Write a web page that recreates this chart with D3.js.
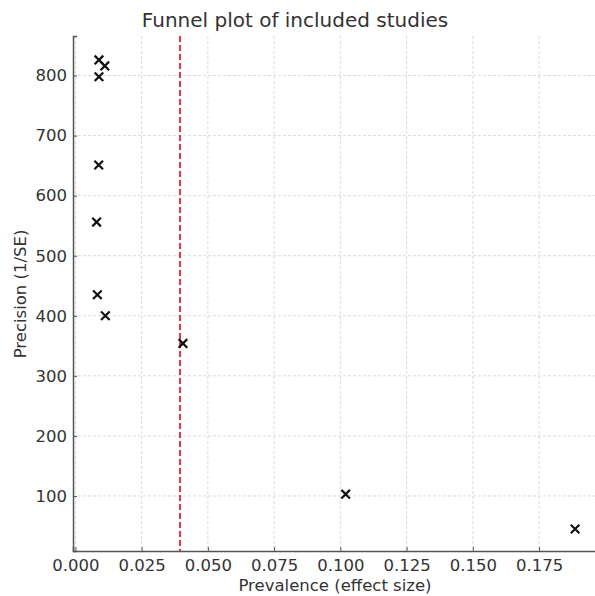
<!DOCTYPE html>
<html lang="en">
  <head>
    <meta charset="UTF-8" />
    <title>Funnel plot</title>
    <style>
      body { margin: 0; background: #fff; }
      text { font-family: "DejaVu Sans", sans-serif; }
    </style>
  </head>
  <body>
    <script src="https://cdn.jsdelivr.net/npm/d3@7"></script>
    <script>
    // study effect sizes and precision
    var prevalence = [0.0089, 0.0111, 0.0089, 0.0088, 0.0080, 0.0083, 0.0113, 0.0406, 0.1020, 0.1886];
    var precision = [826, 816, 798, 651, 556, 435, 400, 354, 103, 45];
    var pooled = 0.0395;
    var xTicks = [0, 0.025, 0.05, 0.075, 0.1, 0.125, 0.15, 0.175];
    var yTicks = [100, 200, 300, 400, 500, 600, 700, 800];

    var width = 595, height = 596;
    var plot = {left: 73, right: 600, top: 36, bottom: 551};

    var svg = d3.select("body").append("svg")
      .attr("width", width)
      .attr("height", height);

    var x = d3.scaleLinear().domain([-0.0009, 0.198]).range([plot.left, plot.right]);
    var y = d3.scaleLinear().domain([8.4, 865.8]).range([plot.bottom, plot.top]);

    // grid
    svg.append("g").selectAll("line")
      .data(xTicks)
      .enter()
      .append("line")
      .attr("x1", function(d){ return x(d); })
      .attr("x2", function(d){ return x(d); })
      .attr("y1", plot.top)
      .attr("y2", plot.bottom)
      .attr("stroke", "#d0d0d0")
      .attr("stroke-width", 0.8)
      .attr("stroke-dasharray", "3,2");

    svg.append("g").selectAll("line")
      .data(yTicks)
      .enter()
      .append("line")
      .attr("x1", plot.left)
      .attr("x2", plot.right)
      .attr("y1", function(d){ return y(d); })
      .attr("y2", function(d){ return y(d); })
      .attr("stroke", "#d0d0d0")
      .attr("stroke-width", 0.8)
      .attr("stroke-dasharray", "3,2");

    // axes (ticks point inward)
    var xAxis = svg.append("g")
      .attr("transform", "translate(0," + plot.bottom + ")")
      .call(d3.axisBottom(x).tickValues(xTicks).tickFormat(d3.format(".3f")).tickSizeOuter(0).tickSize(-4).tickPadding(7));
    var yAxis = svg.append("g")
      .attr("transform", "translate(" + plot.left + ",0)")
      .call(d3.axisLeft(y).tickValues(yTicks).tickFormat(d3.format("d")).tickSizeOuter(0).tickSize(-4).tickPadding(6));

    [xAxis, yAxis].forEach(function(a){
      a.select(".domain").attr("stroke", "#555").attr("stroke-width", 1.5);
      a.selectAll(".tick line").attr("stroke", "#555").attr("stroke-width", 1);
      a.selectAll(".tick text")
        .attr("fill", "#333")
        .style("font-size", "16.5px")
        .style("font-family", "DejaVu Sans, sans-serif");
    });
    yAxis.selectAll(".tick text").attr("x", -6);
    xAxis.selectAll(".tick text").attr("y", 8);

    // pooled estimate
    svg.append("line")
      .attr("x1", x(pooled))
      .attr("x2", x(pooled))
      .attr("y1", plot.top)
      .attr("y2", plot.bottom)
      .attr("stroke", "#e3161c")
      .attr("stroke-width", 1.7)
      .attr("stroke-dasharray", "6,3");

    // markers
    var pts = prevalence.map(function(p, i){ return {x: p, y: precision[i]}; });
    var s = 4.3;
    svg.append("g").selectAll("path")
      .data(pts)
      .enter()
      .append("path")
      .attr("d", function(d){
        var cx = x(d.x), cy = y(d.y);
        return "M" + (cx - s) + "," + (cy - s) + "L" + (cx + s) + "," + (cy + s) +
               "M" + (cx - s) + "," + (cy + s) + "L" + (cx + s) + "," + (cy - s);
      })
      .attr("stroke", "#111")
      .attr("stroke-width", 2.2)
      .attr("fill", "none");

    // labels
    svg.append("text")
      .text("Funnel plot of included studies")
      .attr("x", 295)
      .attr("y", 27)
      .attr("text-anchor", "middle")
      .attr("fill", "#333")
      .style("font-size", "20px");

    svg.append("text")
      .text("Prevalence (effect size)")
      .attr("x", 335)
      .attr("y", 591)
      .attr("text-anchor", "middle")
      .attr("fill", "#333")
      .style("font-size", "16.5px");

    svg.append("text")
      .text("Precision (1/SE)")
      .attr("transform", "translate(26,294) rotate(-90)")
      .attr("text-anchor", "middle")
      .attr("fill", "#333")
      .style("font-size", "16.5px");
    </script>
  </body>
</html>
